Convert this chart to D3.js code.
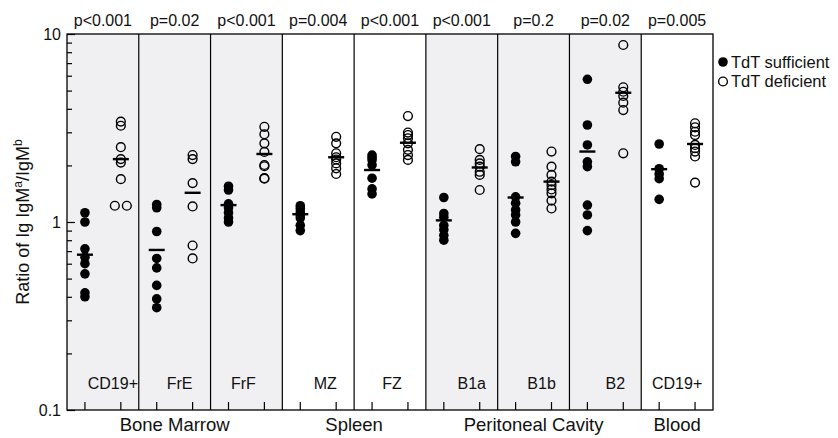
<!DOCTYPE html>
<html>
<head>
<meta charset="utf-8">
<script src="https://cdn.jsdelivr.net/npm/d3@7"></script>
<style>
	body { margin: 0; background: #fff; }
	text { font-family: "Liberation Sans", Arial, Helvetica, sans-serif; fill: #111; }
</style>
</head>
<body>
<div id="canvas"></div>
<script>
// Data
const groups = ['Bone Marrow', 'Spleen', 'Peritoneal Cavity', 'Blood']
const populations = ['CD19+', 'FrE', 'FrF', 'MZ', 'FZ', 'B1a', 'B1b', 'B2', 'CD19+']
const populationGroup = [0, 0, 0, 1, 1, 2, 2, 2, 3]
const pValues = ['p<0.001', 'p=0.02', 'p<0.001', 'p=0.004', 'p<0.001', 'p<0.001', 'p=0.2', 'p=0.02', 'p=0.005']

const sufficient = [
	[1.12, 1.0, 0.72, 0.65, 0.6, 0.53, 0.42, 0.40],
	[1.24, 1.19, 0.89, 0.64, 0.57, 0.46, 0.39, 0.35],
	[1.55, 1.48, 1.25, 1.19, 1.12, 1.05, 1.0],
	[1.22, 1.18, 1.13, 1.09, 1.05, 0.96, 0.90],
	[2.27, 2.2, 2.14, 2.01, 1.71, 1.5, 1.41],
	[1.35, 1.11, 1.06, 0.96, 0.91, 0.85, 0.80],
	[2.23, 2.09, 1.36, 1.26, 1.16, 1.09, 1.0, 0.87],
	[5.74, 3.28, 2.57, 2.09, 1.97, 1.23, 1.09, 0.90],
	[2.6, 1.92, 1.8, 1.7, 1.32],
]
const deficient = [
	[3.42, 3.25, 2.5, 2.16, 2.07, 1.69, 1.22, 1.22],
	[2.27, 2.16, 1.61, 1.21, 0.75, 0.64],
	[3.21, 2.93, 2.62, 2.36, 2.01, 1.98, 1.71, 1.70],
	[2.84, 2.62, 2.32, 2.21, 2.15, 2.05, 1.93, 1.80],
	[3.66, 2.99, 2.9, 2.79, 2.62, 2.42, 2.27, 2.14],
	[2.44, 2.14, 2.05, 1.97, 1.85, 1.78, 1.48],
	[2.37, 1.97, 1.78, 1.64, 1.57, 1.49, 1.42, 1.30, 1.18],
	[8.74, 5.21, 4.93, 4.68, 4.31, 3.94, 2.32],
	[3.35, 3.19, 3.02, 2.9, 2.57, 2.47, 2.37, 2.23, 1.62],
]
const sufficientMeans = [0.67, 0.71, 1.23, 1.10, 1.89, 1.02, 1.35, 2.37, 1.91]
const deficientMeans = [2.16, 1.43, 2.30, 2.21, 2.64, 1.95, 1.64, 4.87, 2.60]

const majorTicks = [0.1, 1, 10]
const minorTicks = [0.2, 0.3, 0.4, 0.5, 0.6, 0.7, 0.8, 0.9, 2, 3, 4, 5, 6, 7, 8, 9]
const legendLabels = ['TdT sufficient', 'TdT deficient']

// Layout
const width = 838, height = 438
const margin = {top: 34, right: 125, bottom: 28, left: 67}
const colors = {shade: '#f0f0f2', ink: '#000'}
const subLabelShift = [10, 5, -3, 7, 2, 10, 8, 10, 0] // labels sit a bit right of centre

const svg = d3.select('#canvas').append('svg')
	.attr('width', width).attr('height', height)

const x = d3.scaleBand()
	.domain(d3.range(populations.length))
	.range([margin.left, width - margin.right])
const y = d3.scaleLog()
	.domain([0.1, 10])
	.range([height - margin.bottom, margin.top])

const colX = (i, k) => x(i) + x.bandwidth() * (k === 0 ? 0.25 : 0.75)

// Panel shading (alternate per tissue group)
svg.selectAll('.panel')
	.data(populations).enter()
	.append('rect')
	.attr('x', (d, i) => x(i))
	.attr('y', margin.top)
	.attr('width', x.bandwidth())
	.attr('height', y(0.1) - y(10))
	.attr('fill', (d, i) => populationGroup[i] % 2 === 0 ? colors.shade : '#fff')

// Dividers
svg.selectAll('.divider')
	.data(d3.range(1, populations.length)).enter()
	.append('line')
	.attr('x1', i => x(i)).attr('x2', i => x(i))
	.attr('y1', margin.top).attr('y2', y(0.1))
	.attr('stroke', colors.ink).attr('stroke-width', 1.2)

// Frame
svg.append('rect')
	.attr('x', x.range()[0]).attr('y', margin.top)
	.attr('width', x.range()[1] - x.range()[0])
	.attr('height', y(0.1) - y(10))
	.attr('fill', 'none').attr('stroke', colors.ink).attr('stroke-width', 1.3)

// Y axis
const yMajor = svg.append('g')
	.attr('transform', `translate(${margin.left},0)`)
	.call(d3.axisLeft(y).tickValues(majorTicks).tickSize(-8).tickPadding(6).tickFormat(d => d3.format('')(d)))
const yMinor = svg.append('g')
	.attr('transform', `translate(${margin.left},0)`)
	.call(d3.axisLeft(y).tickValues(minorTicks).tickSize(-5).tickFormat(''))
;[yMajor, yMinor].forEach(g => {
	g.select('.domain').remove()
	g.selectAll('line').attr('stroke', colors.ink).attr('stroke-width', 1.2)
})
yMajor.selectAll('text').attr('font-size', 16).attr('fill', colors.ink)
	.attr('font-family', '"Liberation Sans", Arial, sans-serif')

// X ticks (one per column)
const columns = []
populations.forEach((p, i) => { columns.push(colX(i, 0)); columns.push(colX(i, 1)) })
svg.selectAll('.xtick')
	.data(columns).enter()
	.append('line')
	.attr('x1', d => d).attr('x2', d => d)
	.attr('y1', y(0.1)).attr('y2', y(0.1) - 8)
	.attr('stroke', colors.ink).attr('stroke-width', 1.2)

// Y title
const yTitle = svg.append('text')
	.attr('transform', `translate(29,${y(1)}) rotate(-90)`)
	.attr('text-anchor', 'middle')
	.attr('font-size', 18)
yTitle.append('tspan').text('Ratio of Ig IgM')
yTitle.append('tspan').attr('font-size', 12).attr('dy', -7).text('a')
yTitle.append('tspan').attr('dy', 7).text('/IgM')
yTitle.append('tspan').attr('font-size', 12).attr('dy', -7).text('b')

// p values
svg.selectAll('.pval')
	.data(pValues).enter()
	.append('text')
	.attr('x', (d, i) => x(i) + x.bandwidth() / 2)
	.attr('y', 26)
	.attr('text-anchor', 'middle')
	.attr('font-size', 16)
	.text(d => d)

// Population labels
svg.selectAll('.poplabel')
	.data(populations).enter()
	.append('text')
	.attr('x', (d, i) => x(i) + x.bandwidth() / 2 + subLabelShift[i])
	.attr('y', 389)
	.attr('text-anchor', 'middle')
	.attr('font-size', 16)
	.text(d => d)

// Group labels
svg.selectAll('.grouplabel')
	.data(groups).enter()
	.append('text')
	.attr('x', (d, g) => {
		const idx = populationGroup.map((v, i) => v === g ? i : -1).filter(i => i >= 0)
		return (x(idx[0]) + x(idx[idx.length - 1]) + x.bandwidth()) / 2
	})
	.attr('y', 431)
	.attr('text-anchor', 'middle')
	.attr('font-size', 18.5)
	.text(d => d)

// Points: identical values in a column are dodged sideways
function pointsFor(series, k) {
	const out = []
	series.forEach((vals, i) => {
		const counts = d3.rollup(vals, v => v.length, v => v)
		const seen = new Map()
		vals.forEach(v => {
			const n = counts.get(v), j = seen.get(v) || 0
			seen.set(v, j + 1)
			const dx = n > 1 ? (j - (n - 1) / 2) * 12 : 0
			out.push({x: colX(i, k) + dx, y: y(v)})
		})
	})
	return out
}

svg.selectAll('.suf')
	.data(pointsFor(sufficient, 0)).enter()
	.append('circle')
	.attr('cx', d => d.x).attr('cy', d => d.y)
	.attr('r', 4.8)
	.attr('fill', colors.ink)

svg.selectAll('.def')
	.data(pointsFor(deficient, 1)).enter()
	.append('circle')
	.attr('cx', d => d.x).attr('cy', d => d.y)
	.attr('r', 4.4)
	.attr('fill', 'none')
	.attr('stroke', colors.ink).attr('stroke-width', 1.4)

// Mean bars
const means = []
sufficientMeans.forEach((m, i) => means.push({x: colX(i, 0), v: m}))
deficientMeans.forEach((m, i) => means.push({x: colX(i, 1), v: m}))
svg.selectAll('.mean')
	.data(means).enter()
	.append('line')
	.attr('x1', d => d.x - 8).attr('x2', d => d.x + 8)
	.attr('y1', d => y(d.v)).attr('y2', d => y(d.v))
	.attr('stroke', colors.ink).attr('stroke-width', 2.4)

// Legend
const legend = svg.selectAll('.legend')
	.data(legendLabels).enter()
	.append('g')
	.attr('transform', (d, i) => `translate(723,${62 + i * 19.5})`)
legend.append('circle')
	.attr('r', d => d === legendLabels[0] ? 4.8 : 4.4)
	.attr('fill', (d, i) => i === 0 ? colors.ink : 'none')
	.attr('stroke', colors.ink)
	.attr('stroke-width', (d, i) => i === 0 ? 0 : 1.4)
legend.append('text')
	.attr('x', 8).attr('y', 5.5)
	.attr('font-size', 16.5)
	.text(d => d)
</script>
</body>
</html>
